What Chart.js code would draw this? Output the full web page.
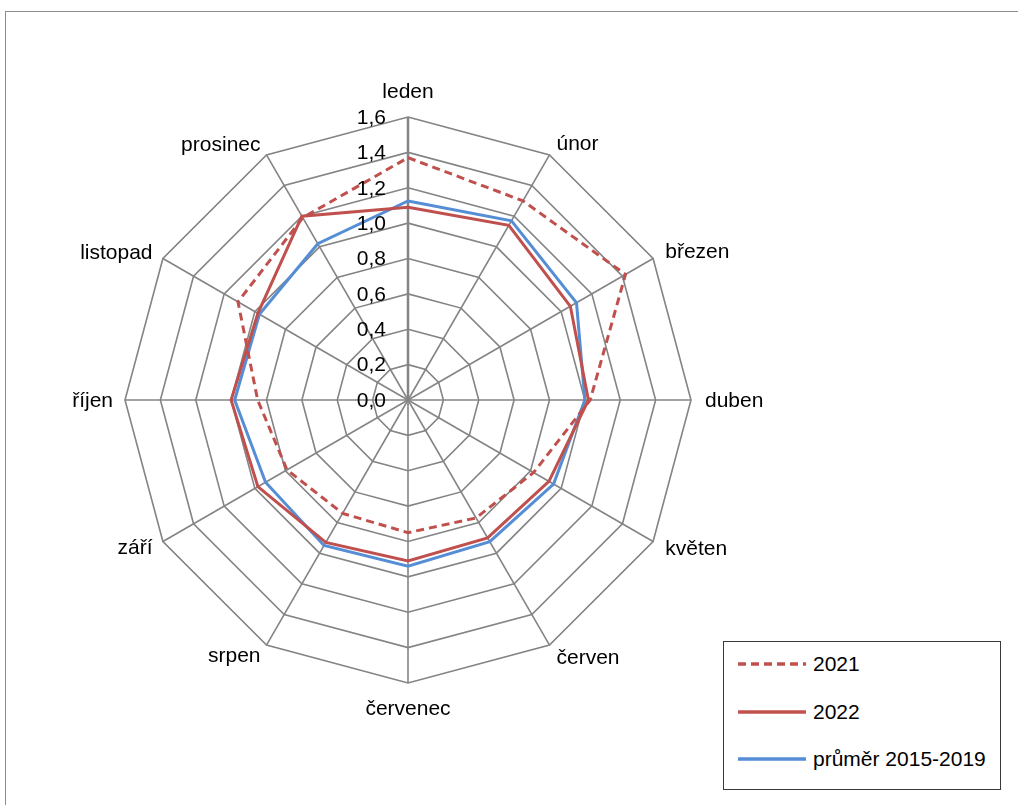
<!DOCTYPE html>
<html lang="cs">
<head>
<meta charset="utf-8">
<title>Měsíční index</title>
<script src="https://cdn.jsdelivr.net/npm/chart.js@4.4.1/dist/chart.umd.min.js"></script>
<style>
  html, body { margin: 0; padding: 0; background: #fff; }
  body { width: 1018px; height: 805px; position: relative; overflow: hidden; font-family: "Liberation Sans", Arial, sans-serif; }
  #frame { position: absolute; left: 5px; top: 11px; width: 1040px; height: 830px; border: 1px solid #8c8c8c; }
  #chart { position: absolute; left: 0; top: 0; }
  #legend { position: absolute; left: 723px; top: 641px; width: 276px; height: 147px; border: 1px solid #3a3a3a; background: #fff; }
  #legend .row { position: absolute; left: 0; height: 24px; display: flex; align-items: center; font-size: 21px; color: #000; white-space: nowrap; }
  #legend svg { margin-left: 13px; margin-right: 6px; }
</style>
</head>
<body>
<div id="frame"></div>
<canvas id="chart" width="1018" height="805"></canvas>
<div id="legend"></div>
<script>
// months around the ring, clockwise from the top
const months = ['leden', 'únor', 'březen', 'duben', 'květen', 'červen', 'červenec', 'srpen', 'září', 'říjen', 'listopad', 'prosinec'];

const values2021 = [1.37, 1.30, 1.42, 1.03, 0.82, 0.77, 0.75, 0.74, 0.79, 0.85, 1.11, 1.19];
const values2022 = [1.09, 1.14, 1.06, 1.02, 0.92, 0.90, 0.91, 0.93, 0.98, 1.00, 0.98, 1.20];
const valuesAvg = [1.125, 1.17, 1.10, 1.00, 0.95, 0.925, 0.94, 0.95, 0.93, 0.98, 0.97, 1.02];

const seriesNames = ['2021', '2022', 'průměr 2015-2019'];
const axisMin = 0;
const axisMax = 1.6;
const axisStep = 0.2;

const RED = '#C0504D';
const BLUE = '#558ED5';
const GRID = '#848484';
const FONT = '21px "Liberation Sans", Arial, sans-serif';

function formatTick(v) {
    return v.toFixed(1).replace('.', ',');
}

// tick values along the first spoke and month names around the outside
const radarText = {
    id: 'radarText',
    afterDraw(chart) {
        const r = chart.scales.r;
        const ctx = chart.ctx;
        ctx.save();
        ctx.font = FONT;
        ctx.fillStyle = '#000';

        ctx.textAlign = 'right';
        ctx.textBaseline = 'middle';
        r.ticks.forEach(t => {
            const y = r.yCenter - r.getDistanceFromCenterForValue(t.value);
            ctx.fillText(formatTick(t.value), r.xCenter - 22, y + 1);
        });

        chart.data.labels.forEach((label, i) => {
            const deg = (Math.round((r.getIndexAngle(i) * 180) / Math.PI) + 360) % 360;
            const gap = deg > 0 && deg < 180 ? 14 : 12;
            const p = r.getPointPosition(i, r.drawingArea + gap);
            let y = p.y + 1;
            if (deg === 0 || deg === 180) {
                ctx.textAlign = 'center';
                y = deg === 0 ? p.y - 13 : p.y + 14;
            } else if (deg < 180) {
                ctx.textAlign = 'left';
            } else {
                ctx.textAlign = 'right';
            }
            ctx.fillText(label, p.x, y);
        });
        ctx.restore();
    }
};

const chart = new Chart(document.getElementById('chart'), {
    type: 'radar',
    data: {
        labels: months,
        datasets: [
            { label: seriesNames[0], data: values2021, borderColor: RED, borderDash: [8, 5], borderWidth: 3 },
            { label: seriesNames[1], data: values2022, borderColor: RED, borderWidth: 3 },
            { label: seriesNames[2], data: valuesAvg, borderColor: BLUE, borderWidth: 3 }
        ]
    },
    options: {
        responsive: false,
        animation: false,
        layout: { padding: { left: 125, top: 117, right: 327, bottom: 122 } },
        elements: {
            line: { fill: false, tension: 0, borderJoinStyle: 'miter' },
            point: { radius: 0, hoverRadius: 0 }
        },
        plugins: {
            legend: { display: false },
            tooltip: { enabled: false }
        },
        scales: {
            r: {
                min: axisMin,
                max: axisMax,
                ticks: { stepSize: axisStep, display: false },
                grid: { color: GRID, lineWidth: 1.6 },
                angleLines: {
                    color: GRID,
                    lineWidth: ctx => (ctx.index === 0 ? 2.5 : 1.6)
                },
                pointLabels: { display: false }
            }
        }
    },
    plugins: [radarText]
});

// legend box built from the datasets
const legend = document.getElementById('legend');
chart.data.datasets.forEach((ds, i) => {
    const row = document.createElement('div');
    row.className = 'row';
    row.style.top = (10 + i * 47.5) + 'px';
    const dash = ds.borderDash ? ds.borderDash.join(' ') : 'none';
    row.innerHTML =
        '<svg width="70" height="6"><line x1="1" y1="3" x2="69" y2="3" stroke="' + ds.borderColor +
        '" stroke-width="3.5" stroke-dasharray="' + dash + '"/></svg>' +
        '<span>' + ds.label + '</span>';
    legend.appendChild(row);
});
</script>
</body>
</html>
